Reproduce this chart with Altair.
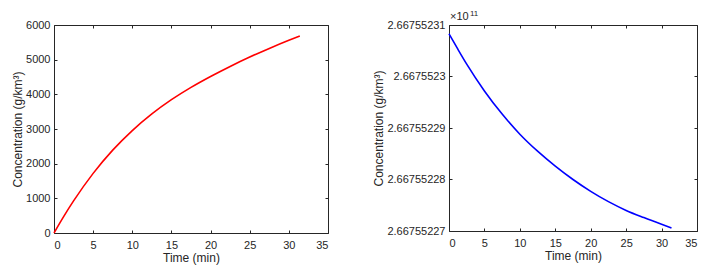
import altair as alt
import pandas as pd

# ---- data ----
time_min = [0, 1.25, 2.5, 5, 7.5, 10, 12.5, 15, 17.5, 20, 22.5, 25, 27.5, 30, 31.4]
conc_left = [0, 480, 925, 1720, 2390, 2955, 3435, 3845, 4200, 4515, 4805, 5075, 5325, 5560, 5683]
conc_right = [2.6675523083, 2.6675523053, 2.6675523024, 2.6675522972, 2.6675522927,
              2.6675522888, 2.6675522855, 2.6675522826, 2.6675522800, 2.6675522777,
              2.6675522757, 2.6675522740, 2.6675522726, 2.6675522713, 2.6675522706]

x_ticks = [0, 5, 10, 15, 20, 25, 30, 35]
left_ticks = [0, 1000, 2000, 3000, 4000, 5000, 6000]
right_ticks = [2.66755227, 2.66755228, 2.66755229, 2.6675523, 2.66755231]
exponent_base = ["×10"]
exponent_power = ["11"]

x_title = "Time (min)"
y_title = "Concentration (g/km³)"

INK = "#262626"
DASH = [3, 2000]
FONT = "Liberation Sans"

df_left = pd.DataFrame({"t": time_min, "c": conc_left})
df_right = pd.DataFrame({"t": time_min, "c": conc_right})


def panel(df, color, ydomain, yticks, yfmt_expr, w, h):
    xs = alt.Scale(domain=[0, 35], nice=False, zero=False)
    ys = alt.Scale(domain=ydomain, nice=False, zero=False)
    main = alt.Chart(df).mark_line(color=color, strokeWidth=1.6, interpolate="monotone").encode(
        x=alt.X("t:Q", scale=xs, title=x_title,
                axis=alt.Axis(orient="bottom", values=x_ticks, ticks=False, domain=False,
                              grid=True, gridDash=DASH, gridColor=INK, gridOpacity=1,
                              labelPadding=6, titlePadding=2, format="d")),
        y=alt.Y("c:Q", scale=ys, title=y_title,
                axis=alt.Axis(orient="left", values=yticks, ticks=False, domain=False,
                              grid=True, gridDash=DASH, gridColor=INK, gridOpacity=1,
                              labelPadding=4, titlePadding=1, labelExpr=yfmt_expr)),
    )
    mirror = alt.Chart(df).mark_line(opacity=0).encode(
        x=alt.X("t:Q", scale=xs, title=None,
                axis=alt.Axis(orient="top", values=x_ticks, ticks=False, domain=False,
                              labels=False, grid=True, gridDash=DASH, gridColor=INK,
                              gridOpacity=1)),
        y=alt.Y("c:Q", scale=ys, title=None,
                axis=alt.Axis(orient="right", values=yticks, ticks=False, domain=False,
                              labels=False, grid=True, gridDash=DASH, gridColor=INK,
                              gridOpacity=1)),
    )
    return alt.layer(main, mirror).resolve_axis(x="independent", y="independent").properties(
        width=w, height=h)


left = panel(df_left, "#ff0000", [0, 6000], left_ticks, "format(datum.value, 'd')", 274, 208)

right_base = panel(df_right, "#0000ff", [2.66755227, 2.66755231], right_ticks,
                   "format(datum.value, '.8~f')", 248, 206)
expo1 = alt.Chart(pd.DataFrame({"lab": exponent_base})).mark_text(
    align="left", baseline="alphabetic", fontSize=11, color=INK, font=FONT
).encode(x=alt.value(1), y=alt.value(-5), text="lab:N")
expo2 = alt.Chart(pd.DataFrame({"lab": exponent_power})).mark_text(
    align="left", baseline="alphabetic", fontSize=8, color=INK, font=FONT
).encode(x=alt.value(21), y=alt.value(-9), text="lab:N")
right = alt.layer(right_base, expo1, expo2).properties(width=248, height=206)

chart = alt.hconcat(left, right, spacing=43).properties(
    padding={"left": 3, "top": 1, "right": 5, "bottom": 5}
).configure(font=FONT).configure_axis(
    labelFontSize=11, titleFontSize=12, labelColor=INK, titleColor=INK,
    titleFontWeight="normal", labelFont=FONT, titleFont=FONT
).configure_view(stroke=INK, strokeWidth=1)

chart.save("out.html", embed_options={"renderer": "svg", "actions": False})
